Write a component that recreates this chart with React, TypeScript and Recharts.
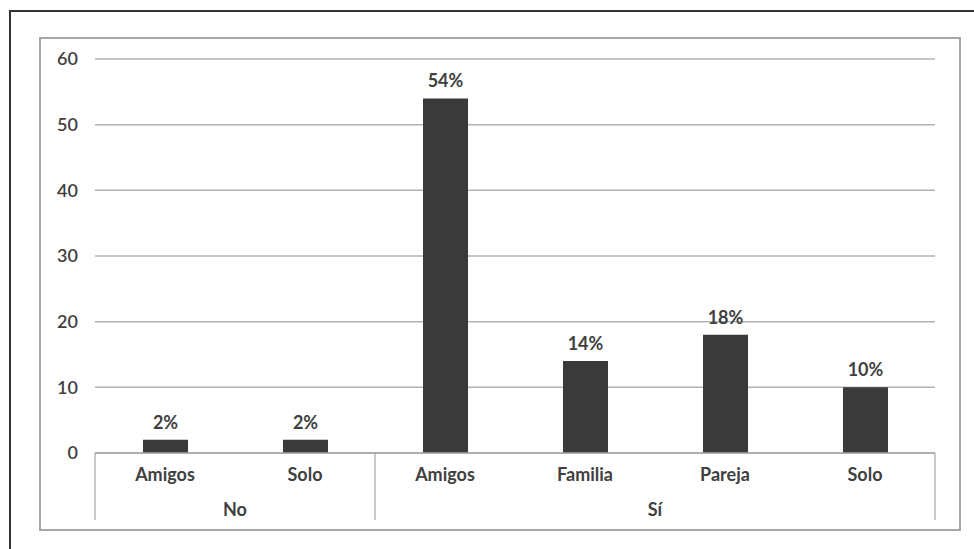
import { BarChart, Bar, XAxis, YAxis, CartesianGrid, LabelList } from 'recharts';

// categorías, grupos y valores (%)
const categories = ['Amigos', 'Solo', 'Amigos', 'Familia', 'Pareja', 'Solo'];
const groups = ['No', 'No', 'Sí', 'Sí', 'Sí', 'Sí'];
const values = [2, 2, 54, 14, 18, 10];
const yTicks = [0, 10, 20, 30, 40, 50, 60];

const chartData = categories.map((cat, i) => ({
  key: `${groups[i]}-${cat}`,
  cat,
  group: groups[i],
  value: values[i],
}));

const W = 974;
const H = 549;
const X_AXIS_H = 30;
const MARGIN = { top: 59, right: 39, left: 55, bottom: 96 - X_AXIS_H };
const Y_AXIS_W = 40;
const PLOT_W = W - MARGIN.left - Y_AXIS_W - MARGIN.right;
const BAND = PLOT_W / chartData.length;
const FONT = 'Lato, "Open Sans", sans-serif';
const TEXT = '#404040';
const LINE = '#a6a6a6';

// tick con dos niveles: categoría + grupo
const GroupedTick = ({ x, y, payload, index }: any) => {
  const d = chartData[index];
  if (!d) return null;
  const left = x - BAND / 2;
  const isFirst = index === 0 || chartData[index - 1].group !== d.group;
  const isLast = index === chartData.length - 1;
  const groupCount = chartData.filter(r => r.group === d.group).length;
  return (
    <g>
      <text x={x} y={y + 28} textAnchor="middle" fill={TEXT} fontSize={18} fontWeight={700} fontFamily={FONT}>
        {payload.value}
      </text>
      {isFirst && (
        <>
          <line x1={left} x2={left} y1={y} y2={y + 67} stroke={LINE} strokeWidth={1.2} />
          <text x={left + (groupCount * BAND) / 2} y={y + 63} textAnchor="middle" fill={TEXT} fontSize={18} fontWeight={700} fontFamily={FONT}>
            {d.group}
          </text>
        </>
      )}
      {isLast && <line x1={left + BAND} x2={left + BAND} y1={y} y2={y + 67} stroke={LINE} strokeWidth={1.2} />}
    </g>
  );
};

export default function App() {
  return (
    <div style={{ position: 'fixed', top: 0, left: 0, width: W, height: H, background: '#fff', overflow: 'hidden' }}>
      {/* marco exterior */}
      <div style={{ position: 'absolute', left: 9, top: 10, width: 1000, height: 600, border: '2px solid #333' }} />
      {/* marco del gráfico */}
      <div style={{ position: 'absolute', left: 39, top: 37, width: 918, height: 490, border: '2px solid #a6a6a6' }} />
      <div style={{ position: 'absolute', left: 0, top: 0 }}>
        <BarChart width={W} height={H} data={chartData} margin={MARGIN} barCategoryGap={0}>
          <CartesianGrid vertical={false} stroke="#b3b3b3" strokeWidth={1.5} />
          <XAxis
            dataKey="key"
            height={X_AXIS_H}
            axisLine={{ stroke: LINE, strokeWidth: 1.5 }}
            tickLine={false}
            interval={0}
            tick={(p: any) => <GroupedTick {...p} payload={{ value: chartData[p.index]?.cat }} />}
            tickSize={0}
            tickMargin={0}
          />
          <YAxis
            width={Y_AXIS_W}
            domain={[0, 60]}
            ticks={yTicks}
            axisLine={false}
            tickLine={false}
            tickSize={0}
            tickMargin={17}
            tick={{ fill: TEXT, fontSize: 18, fontFamily: FONT, fontWeight: 600 }}
          />
          <Bar dataKey="value" fill="#3a3a3a" barSize={45} isAnimationActive={false}>
            <LabelList
              dataKey="value"
              position="top"
              offset={11}
              formatter={(v: any) => `${v}%`}
              fill={TEXT}
              fontSize={18}
              fontWeight={700}
              fontFamily={FONT}
            />
          </Bar>
        </BarChart>
      </div>
    </div>
  );
}
